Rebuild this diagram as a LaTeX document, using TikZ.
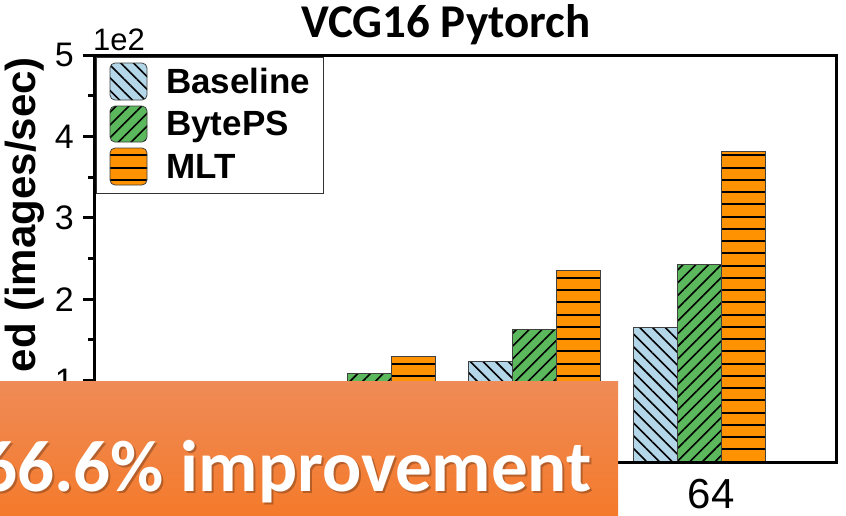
\documentclass[tikz,border=0pt]{standalone}
\usepackage{fontspec}
\setmainfont{Liberation Sans}
\newfontfamily\calibri{Carlito}
\usetikzlibrary{patterns.meta}
\definecolor{baseblue}{HTML}{B3D6E8}
\definecolor{bpsgreen}{HTML}{5CB85C}
\definecolor{mltorange}{HTML}{FF9200}
\definecolor{boxtop}{HTML}{EF8B57}
\definecolor{boxbot}{HTML}{F47A2B}
% horizontal hatching on one global grid; #1 = extra path options
\newcommand{\mlthatch}[3][]{%
  \fill[mltorange,#1] #2 rectangle #3;
  \begin{scope}
    \path[clip,#1] #2 rectangle #3;
    \foreach \k in {0,...,26}
      \draw[line width=2pt] (0,461.6-12.25*\k) -- (846,461.6-12.25*\k);
  \end{scope}
  \draw[bar,#1] #2 rectangle #3;}

\begin{document}
\begin{tikzpicture}[x=1pt,y=-1pt,
  bar/.style={draw=black!75,line width=0.8pt},
  base/.style={bar,preaction={fill=baseblue},pattern={Lines[angle=-45,distance=9pt,line width=1.6pt]}},
  bps/.style={bar,preaction={fill=bpsgreen},pattern={Lines[angle=45,distance=9pt,line width=1.6pt]}},
  ticklab/.style={font=\fontsize{34}{34}\selectfont,anchor=east,inner sep=0pt},
  leglab/.style={font=\bfseries\fontsize{35}{35}\selectfont,anchor=base west,inner sep=0pt},
  gaintext/.style={font=\calibri\bfseries\fontsize{73}{73}\selectfont,anchor=base east,inner sep=0pt}]
\useasboundingbox (0,0) rectangle (846,515);
\clip (0,0) rectangle (846,515);
\fill[white] (0,0) rectangle (846,515);

% title and y label
\node[font=\calibri\bfseries\fontsize{47}{47}\selectfont,anchor=base,inner sep=0pt] (title) at (446,37) {VCG16 Pytorch};
\node[font=\bfseries\fontsize{42}{42}\selectfont,rotate=90,anchor=base east,inner sep=0pt] (ylab) at (35,57) {ed (images/sec)};
\node[font=\fontsize{31}{31}\selectfont,anchor=base west,inner sep=0pt] (scale) at (93,50) {1e2};

% bars: group left edge / Baseline / BytePS / MLT
\foreach \gx/\vb/\vp/\vm in {303/0.90/1.09/1.30, 468/1.23/1.63/2.36, 633/1.65/2.43/3.81} {
  \draw[base] (\gx,462) rectangle ++(44,{-81.4*\vb});
  \draw[bps] (\gx+44,462) rectangle ++(44,{-81.4*\vp});
  \mlthatch{(\gx+88,462)}{(\gx+132,{462-81.4*\vm})}
}

% axes
\draw[line width=3pt] (94,55) rectangle (836,462);
\foreach \v in {0,...,5}
  \draw[line width=3pt] (94,{462-81.4*\v}) -- ++(-11,0);
\foreach \v in {0.5,1.5,...,4.5}
  \draw[line width=3pt] (94,{462-81.4*\v}) -- ++(-6,0);
\foreach \v in {1,...,5}
  \node[ticklab] (tick\v) at (74,{462-81.4*\v}) {\v};
\node[font=\fontsize{42}{42}\selectfont,anchor=base,inner sep=0pt] (x64) at (711,508) {64};

% legend
\draw[fill=white,draw=black!80,line width=0.8pt] (96,57) rectangle (323,193);
\draw[base,rounded corners=5pt] (110,63) rectangle (147,100);
\draw[bps,rounded corners=5pt] (110,106) rectangle (147,142);
\mlthatch[rounded corners=5pt]{(110,148)}{(147,185)}
\node[leglab] (lbase) at (166,93) {Baseline};
\node[leglab] (lbps) at (166,135) {BytePS};
\node[leglab] (lmlt) at (166,178) {MLT};

% overlay banner
\shade[top color=boxtop,bottom color=boxbot] (0,381) rectangle (618,515);
\node[gaintext,text=black,opacity=0.25] at (594,493) {66.6\% improvement};
\node[gaintext,text=white] (gain) at (592,491) {66.6\% improvement};
\end{tikzpicture}
\end{document}
